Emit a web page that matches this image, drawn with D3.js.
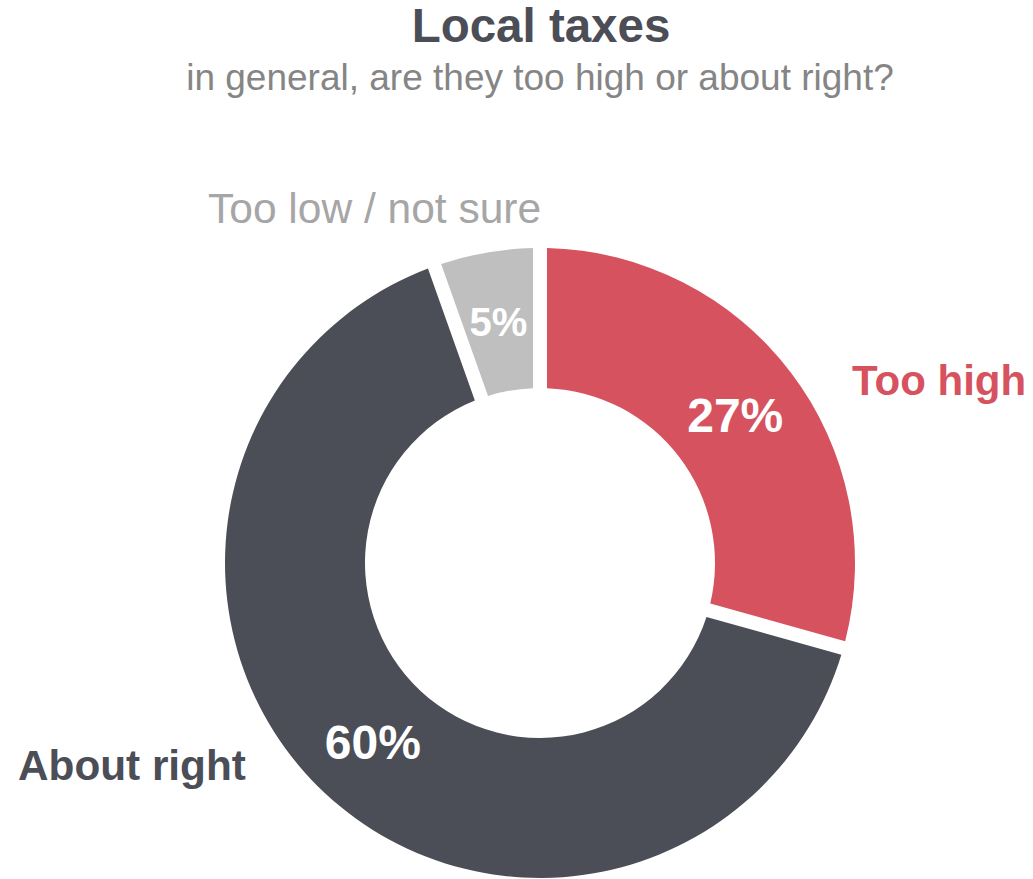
<!DOCTYPE html>
<html>
<head>
<meta charset="utf-8">
<script src="https://cdn.jsdelivr.net/npm/d3@7/dist/d3.min.js"></script>
<style>
  html, body { margin: 0; padding: 0; background: #fff; }
  svg { display: block; font-family: "Liberation Sans", Arial, sans-serif; }
</style>
</head>
<body>
<svg id="chart" width="1033" height="879"></svg>
<script>
// Survey answers: "Local taxes — in general, are they too high or about right?"
const categories = ["Too high", "About right", "Too low / not sure"];
const values = [27, 60, 5];
const valueLabels = ["27%", "60%", "5%"];
const colors = ["#d6525e", "#4b4e56", "#bfbfbf"];
const labelColors = ["#d6525e", "#4b4e56", "#a6a6a6"];

const W = 1033, H = 879;
const cx = 540, cy = 563;
const outerR = 315, innerR = 175;
const gap = 14;

const svg = d3.select("#chart");

svg.append("text")
  .attr("x", 541).attr("y", 42)
  .attr("text-anchor", "middle")
  .attr("font-size", 47.5).attr("font-weight", "bold")
  .attr("fill", "#4b4e56")
  .text("Local taxes");

svg.append("text")
  .attr("x", 540).attr("y", 90)
  .attr("text-anchor", "middle")
  .attr("font-size", 37)
  .attr("fill", "#858585")
  .text("in general, are they too high or about right?");

const pie = d3.pie().sort(null).value(d => d.value)
  .startAngle(0).endAngle(2 * Math.PI);

const data = categories.map((c, i) => ({ name: c, value: values[i], label: valueLabels[i], i }));
const arcs = pie(data);

const arc = d3.arc()
  .innerRadius(innerR).outerRadius(outerR)
  .padRadius(outerR).padAngle(gap / outerR);

const labelArc = d3.arc().innerRadius(245).outerRadius(245);

const g = svg.append("g").attr("transform", `translate(${cx},${cy})`);

g.selectAll("path.slice").data(arcs).join("path")
  .attr("class", "slice")
  .attr("d", arc)
  .attr("fill", d => colors[d.data.i]);

// Percentages on the ring
g.selectAll("text.pct").data(arcs).join("text")
  .attr("class", "pct")
  .attr("transform", d => `translate(${labelArc.centroid(d)})`)
  .attr("dy", "0.36em")
  .attr("text-anchor", "middle")
  .attr("font-weight", "bold")
  .attr("font-size", d => d.data.value < 10 ? 40 : 48)
  .attr("fill", "#fff")
  .text(d => d.data.label);

// Category names outside the ring
const namePos = [
  { x: 852 - cx, y: 395 - cy, size: 42, weight: "bold", anchor: "start" },
  { x: 18 - cx, y: 780 - cy, size: 42.3, weight: "bold", anchor: "start" },
  { x: 208 - cx, y: 223 - cy, size: 42.5, weight: "normal", anchor: "start" }
];

g.selectAll("text.name").data(arcs).join("text")
  .attr("class", "name")
  .attr("x", d => namePos[d.data.i].x)
  .attr("y", d => namePos[d.data.i].y)
  .attr("text-anchor", d => namePos[d.data.i].anchor)
  .attr("font-size", d => namePos[d.data.i].size)
  .attr("font-weight", d => namePos[d.data.i].weight)
  .attr("fill", d => labelColors[d.data.i])
  .text(d => d.data.name);
</script>
</body>
</html>
